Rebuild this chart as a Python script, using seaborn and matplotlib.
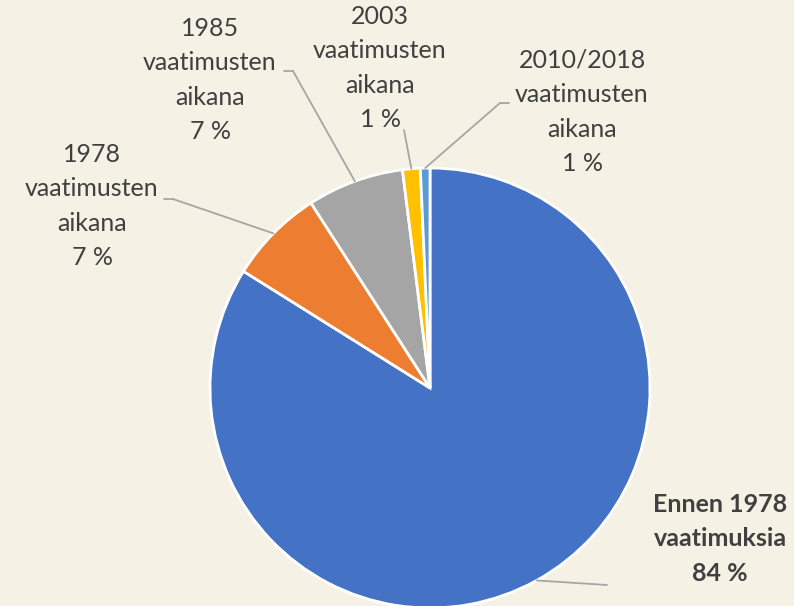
import matplotlib
matplotlib.use("Agg")
import matplotlib.pyplot as plt
import seaborn as sns
import numpy as np

categories = ["Ennen 1978\nvaatimuksia", "1978\nvaatimusten\naikana", "1985\nvaatimusten\naikana",
              "2003\nvaatimusten\naikana", "2010/2018\nvaatimusten\naikana"]
values = [83.9, 7.0, 7.1, 1.3, 0.7]
pct_labels = ["84 %", "7 %", "7 %", "1 %", "1 %"]
colors = ["#4472C4", "#ED7D31", "#A5A5A5", "#FFC000", "#5B9BD5"]

BG = "#F5F1E4"
sns.set_theme(style="white", rc={"figure.facecolor": BG, "axes.facecolor": BG})
plt.rcParams["font.family"] = ["Lato", "DejaVu Sans"]

W, H = 794, 606
fig = plt.figure(figsize=(W / 100, H / 100), dpi=100)
ax = fig.add_axes([0, 0, 1, 1])

cx, cy, R = 430, H - 388, 220
wedges, _ = ax.pie(values, colors=colors, startangle=90, counterclock=False,
                   center=(cx, cy), radius=R,
                   wedgeprops=dict(edgecolor="white", linewidth=2))
ax.set_xlim(0, W)
ax.set_ylim(0, H)
ax.set_aspect("equal")
ax.axis("off")

# label layout: (text center x, text block center y from top, elbow x, elbow y from top)
layout = [
    (720, 539, 607, 585),
    (92, 206, 173, 199),
    (210, 80, 293, 71),
    (380, 68, None, None),
    (582, 112, 500, 103),
]
bold = [True, False, False, False, False]
text_color = "#404040"
line_color = "#A6A6A6"

for w, cat, pct, (tx, ty, ex, ey), b in zip(wedges, categories, pct_labels, layout, bold):
    mid = np.deg2rad((w.theta1 + w.theta2) / 2)
    px, py = cx + R * np.cos(mid), cy + R * np.sin(mid)
    ax.text(tx, H - ty, cat + "\n" + pct, ha="center", va="center", fontsize=18,
            color=text_color, fontweight="bold" if b else "normal", linespacing=1.6)
    if ex is None:
        ax.plot([px, 404], [py, H - 130], color=line_color, lw=1.3)
    elif cat.startswith("Ennen"):
        ax.plot([px, ex], [py, H - ey], color=line_color, lw=1.3)
    else:
        sx = ex - 9 if ex > tx else ex + 9
        ax.plot([sx, ex], [H - ey, H - ey], color=line_color, lw=1.3)
        ax.plot([ex, px], [H - ey, py], color=line_color, lw=1.3)

fig.savefig("out.png", dpi=100, facecolor=BG)
